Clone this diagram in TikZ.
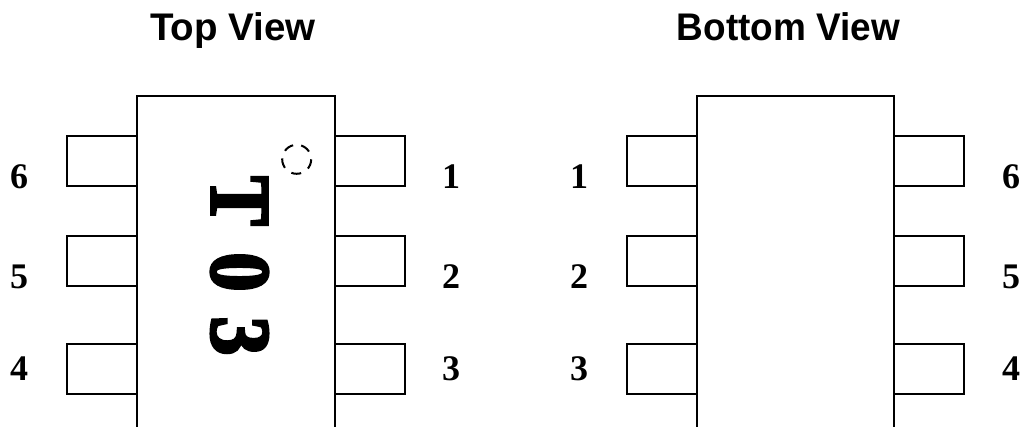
\documentclass[tikz,border=0pt]{standalone}
\usepackage{fontspec}
\setmainfont{Liberation Serif}
\newfontfamily\titlefont{Liberation Sans}
\newfontfamily\heavyfont[FakeBold=3.5]{Liberation Serif Bold}
\tikzset{
  x=1pt,y=-1pt,
  outline/.style={draw=black,line width=2.2pt},
  viewtitle/.style={font=\titlefont\bfseries\fontsize{38.5}{38.5}\selectfont,inner sep=0pt,anchor=base},
  pinnum/.style={font=\bfseries\fontsize{36}{36}\selectfont,inner sep=0pt,anchor=base},
  mark glyph/.style={font=\heavyfont\fontsize{85}{85}\selectfont,inner sep=0pt,rotate=-90,anchor=center},
}
\newcommand{\padrow}[3]{%
  \draw[outline] (#1,#2) rectangle (#1+70,#3);}
\begin{document}
\begin{tikzpicture}
\useasboundingbox (0,0) rectangle (1024,427);
\node[viewtitle] (t1) at (233,41) {Top View};
\node[viewtitle] (t2) at (788.5,41) {\scalebox{.96}[1]{Bottom View}};
% bodies
\draw[outline] (137,427) -- (137,96) -- (335,96) -- (335,427);
\draw[outline] (697,427) -- (697,96) -- (894,96) -- (894,427);
% pads
\foreach \a/\b in {136/186,236/286,344/394}{
  \padrow{67}{\a}{\b}
  \padrow{335}{\a}{\b}
  \padrow{627}{\a}{\b}
  \padrow{894}{\a}{\b}
}
% pin numbers
\node[pinnum] (a6) at (19,189) {6};
\node[pinnum] (a5) at (19,288) {5};
\node[pinnum] (a4) at (19,380) {4};
\node[pinnum] (a1) at (451,189) {1};
\node[pinnum] (a2) at (451,288) {2};
\node[pinnum] (a3) at (451,380) {3};
\node[pinnum] (b1) at (579,189) {1};
\node[pinnum] (b2) at (579,288) {2};
\node[pinnum] (b3) at (579,380) {3};
\node[pinnum] (b6) at (1011,189) {6};
\node[pinnum] (b5) at (1011,288) {5};
\node[pinnum] (b4) at (1011,380) {4};
% marking
\node[mark glyph] (mT) at (239.5,201) {\scalebox{.88}[1]{T}};
\node[mark glyph] (m0) at (239.5,272) {\scalebox{.92}[1]{0}};
\node[mark glyph] (m3) at (239.5,336) {\scalebox{.92}[1]{3}};
\draw[line width=2pt,dash pattern=on 10pt off 8.2pt] (296.7,159.3) circle (14.5);
\end{tikzpicture}
\end{document}
